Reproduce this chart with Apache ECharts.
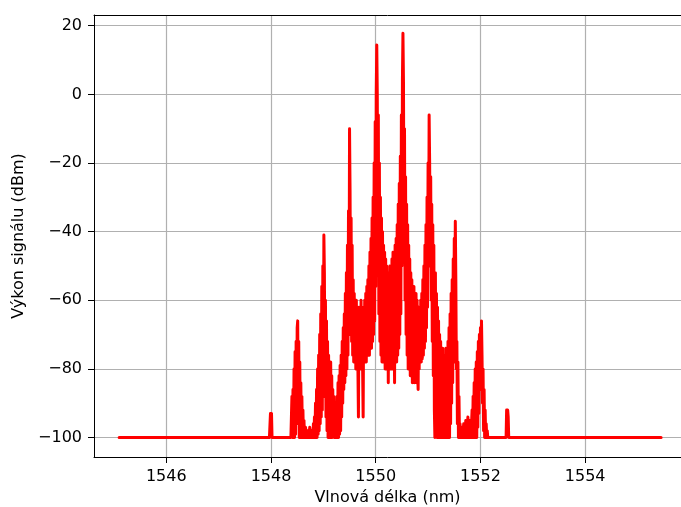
<!DOCTYPE html>
<html>
<head>
<meta charset="utf-8">
<script src="https://cdn.jsdelivr.net/npm/echarts@6/dist/echarts.min.js"></script>
<style>
html,body{margin:0;padding:0;background:#fff;}
#chart{width:681px;height:507px;}
</style>
</head>
<body>
<div id="chart"></div>
<script>
// ---- data: [wavelength nm, power dBm] ----
const flatLeft = [[1545.10,-100],[1547.97,-100]];
const spike1548 = [[1547.98,-100],[1547.99,-93],[1548.00,-96],[1548.01,-93],[1548.02,-100],[1548.38,-100]];
const lobe1548_5 = [
 [1548.39,-100],[1548.40,-88],[1548.41,-100],[1548.42,-86],[1548.43,-100],[1548.44,-80],[1548.45,-100],[1548.46,-75],
 [1548.47,-99],[1548.48,-72],[1548.49,-96],[1548.50,-68],[1548.51,-66],[1548.52,-94],[1548.53,-72],[1548.54,-100],
 [1548.55,-78],[1548.56,-100],[1548.57,-84],[1548.58,-100],[1548.59,-88],[1548.60,-100],[1548.61,-92],[1548.62,-100],
 [1548.63,-95],[1548.64,-100],[1548.66,-97],[1548.68,-100],[1548.70,-98],[1548.72,-100],[1548.74,-97],[1548.76,-100],
 [1548.78,-98],[1548.80,-100]
];
const lobe1549_0 = [
 [1548.81,-96],[1548.82,-100],[1548.83,-94],[1548.84,-100],[1548.85,-90],[1548.86,-100],[1548.87,-86],[1548.88,-100],
 [1548.89,-80],[1548.90,-99],[1548.91,-76],[1548.92,-98],[1548.93,-70],[1548.94,-96],[1548.95,-64],[1548.96,-94],
 [1548.97,-56],[1548.98,-92],[1548.99,-50],[1549.00,-86],[1549.01,-41],
 [1549.02,-52],[1549.03,-88],[1549.04,-60],[1549.05,-94],[1549.06,-66],[1549.07,-98],[1549.08,-72],[1549.09,-100],
 [1549.10,-76],[1549.11,-100],[1549.12,-80],[1549.13,-100],[1549.14,-78],[1549.15,-100],[1549.16,-82],[1549.17,-100],
 [1549.18,-86],[1549.19,-99],[1549.20,-88],[1549.21,-100],[1549.22,-90],[1549.23,-100],[1549.24,-92],[1549.25,-100]
];
const lobe1549_5 = [
 [1549.26,-88],[1549.27,-100],[1549.28,-84],[1549.29,-100],[1549.30,-82],[1549.31,-99],[1549.32,-79],[1549.33,-98],
 [1549.34,-76],[1549.35,-94],[1549.36,-72],[1549.37,-90],[1549.38,-68],[1549.39,-86],[1549.40,-64],[1549.41,-84],
 [1549.42,-58],[1549.43,-82],[1549.44,-52],[1549.45,-80],[1549.46,-44],[1549.47,-76],[1549.48,-34],[1549.49,-70],
 [1549.50,-10],
 [1549.51,-28],[1549.52,-66],[1549.53,-36],[1549.54,-72],[1549.55,-44],[1549.56,-76],[1549.57,-54],[1549.58,-78],
 [1549.59,-58],[1549.60,-78],[1549.61,-62],[1549.62,-80],[1549.63,-60],[1549.64,-78],[1549.65,-62],[1549.66,-80],
 [1549.67,-94],[1549.68,-62],[1549.69,-78],[1549.70,-64],[1549.71,-80],[1549.72,-60],[1549.73,-76],[1549.74,-62],
 [1549.75,-80],[1549.76,-94],[1549.77,-62]
];
const lobe1550_0 = [
 [1549.78,-78],[1549.79,-60],[1549.80,-76],[1549.81,-58],[1549.82,-78],[1549.83,-56],[1549.84,-76],[1549.85,-54],
 [1549.86,-76],[1549.87,-50],[1549.88,-76],[1549.89,-46],[1549.90,-74],[1549.91,-42],[1549.92,-74],[1549.93,-36],
 [1549.94,-72],[1549.95,-30],[1549.96,-70],[1549.97,-20],[1549.98,-66],[1549.99,-8],[1550.00,-56],[1550.01,0],
 [1550.02,14.4],
 [1550.03,0],[1550.04,-50],[1550.05,-6],[1550.06,-64],[1550.07,-20],[1550.08,-72],[1550.09,-30],[1550.10,-76],
 [1550.11,-36],[1550.12,-78],[1550.13,-40],[1550.14,-78],[1550.15,-44],[1550.16,-78],[1550.17,-46],[1550.18,-80],
 [1550.19,-48],[1550.20,-78],[1550.21,-50],[1550.22,-80],[1550.23,-52],[1550.24,-84],[1550.25,-52],[1550.26,-78],
 [1550.27,-50],[1550.28,-80],[1550.29,-50],[1550.30,-78],[1550.31,-48],[1550.32,-80],[1550.33,-46],[1550.34,-78],
 [1550.35,-46],[1550.36,-84],[1550.37,-44],[1550.38,-78]
];
const lobe1550_5 = [
 [1550.39,-42],[1550.40,-78],[1550.41,-38],[1550.42,-76],[1550.43,-32],[1550.44,-74],[1550.45,-26],[1550.46,-70],
 [1550.47,-18],[1550.48,-64],[1550.49,-6],[1550.50,-50],[1550.51,4],[1550.52,17.8],
 [1550.53,4],[1550.54,-40],[1550.55,-10],[1550.56,-60],[1550.57,-24],[1550.58,-70],[1550.59,-32],[1550.60,-76],
 [1550.61,-38],[1550.62,-80],[1550.63,-44],[1550.64,-80],[1550.65,-48],[1550.66,-82],[1550.67,-52],[1550.68,-82],
 [1550.69,-54],[1550.70,-84],[1550.71,-56],[1550.72,-82],[1550.73,-56],[1550.74,-84],[1550.75,-58],[1550.76,-82],
 [1550.77,-58],[1550.78,-84],[1550.79,-60],[1550.80,-80],[1550.81,-86],[1550.82,-62],[1550.83,-80],[1550.84,-62],
 [1550.85,-78]
];
const lobe1551_0 = [
 [1550.86,-60],[1550.87,-78],[1550.88,-58],[1550.89,-77],[1550.90,-54],[1550.91,-76],[1550.92,-50],[1550.93,-74],
 [1550.94,-44],[1550.95,-72],[1550.96,-38],[1550.97,-68],[1550.98,-30],[1550.99,-62],[1551.00,-20],[1551.01,-50],
 [1551.02,-6],
 [1551.03,-20],[1551.04,-48],[1551.05,-24],[1551.06,-60],[1551.07,-32],[1551.08,-72],[1551.09,-38],[1551.10,-82],
 [1551.11,-44],[1551.12,-92],[1551.13,-100],[1551.14,-52],[1551.15,-98],[1551.16,-58],[1551.17,-100],[1551.18,-62],
 [1551.19,-100],[1551.20,-66],[1551.21,-100],[1551.22,-70],[1551.23,-100],[1551.24,-72],[1551.25,-100],[1551.26,-76],
 [1551.27,-100],[1551.28,-74],[1551.29,-100],[1551.30,-76],[1551.31,-100],[1551.32,-78],[1551.33,-100],[1551.34,-74],
 [1551.35,-100],[1551.36,-76],[1551.37,-100]
];
const lobe1551_5 = [
 [1551.38,-72],[1551.39,-100],[1551.40,-68],[1551.41,-100],[1551.42,-64],[1551.43,-96],[1551.44,-58],[1551.45,-90],
 [1551.46,-54],[1551.47,-84],[1551.48,-48],[1551.49,-78],[1551.50,-42],[1551.51,-68],[1551.52,-37],
 [1551.53,-54],[1551.54,-80],[1551.55,-72],[1551.56,-96],[1551.57,-78],[1551.58,-100],[1551.59,-88],[1551.60,-100],
 [1551.61,-96],[1551.62,-100],[1551.64,-97],[1551.66,-100],[1551.68,-96],[1551.70,-100],[1551.72,-95],[1551.74,-100],
 [1551.76,-94],[1551.78,-100],[1551.80,-95],[1551.82,-100]
];
const lobe1552_0 = [
 [1551.84,-92],[1551.85,-100],[1551.86,-88],[1551.87,-100],[1551.88,-84],[1551.89,-100],[1551.90,-80],[1551.91,-100],
 [1551.92,-78],[1551.93,-100],[1551.94,-75],[1551.95,-97],[1551.96,-72],[1551.97,-93],[1551.98,-70],[1551.99,-86],
 [1552.00,-68],[1552.01,-80],[1552.02,-66],
 [1552.03,-76],[1552.04,-90],[1552.05,-80],[1552.06,-98],[1552.07,-86],[1552.08,-100],[1552.09,-92],[1552.10,-100],
 [1552.11,-96],[1552.12,-100],[1552.13,-98],[1552.14,-100]
];
const spike1552_5 = [[1552.49,-100],[1552.50,-92],[1552.51,-95],[1552.52,-92],[1552.53,-94],[1552.54,-100]];
const flatRight = [[1555.45,-100]];

const xTicks = [1546, 1548, 1550, 1552, 1554];
const yTicks = [-100, -80, -60, -40, -20, 0, 20];

const spectrum = [].concat(flatLeft, spike1548, lobe1548_5, lobe1549_0, lobe1549_5, lobe1550_0,
  lobe1550_5, lobe1551_0, lobe1551_5, lobe1552_0, spike1552_5, flatRight);

const FONT = 'DejaVu Sans';
const FS = 16;
const minusFmt = v => String(v).replace('-', '\u2212');
const chart = echarts.init(document.getElementById('chart'), null, {renderer: 'canvas'});
chart.setOption({
  animation: false,
  backgroundColor: '#ffffff',
  textStyle: {fontFamily: FONT},
  grid: {left: 94, right: 0, top: 15, bottom: 50, containLabel: false, outerBoundsMode: 'none'},
  xAxis: [{
    type: 'value', min: 1544.62, max: 1555.83, position: 'bottom',
    name: 'Vlnová délka (nm)', nameLocation: 'middle', nameGap: 33,
    nameTextStyle: {fontFamily: FONT, fontSize: FS, color: '#000'},
    axisLine: {show: true, onZero: false, lineStyle: {color: '#000', width: 1}},
    axisTick: {show: true, length: 6, lineStyle: {color: '#000', width: 1}, customValues: xTicks},
    axisLabel: {show: true, margin: 12, fontFamily: FONT, fontSize: FS, color: '#000', customValues: xTicks,
      formatter: v => String(v)},
    splitLine: {show: true, lineStyle: {color: '#b0b0b0', width: 1.2}}
  }, {
    type: 'value', min: 1544.62, max: 1555.83, position: 'top',
    axisLine: {show: true, onZero: false, lineStyle: {color: '#000', width: 1}},
    axisTick: {show: false}, axisLabel: {show: false}, splitLine: {show: false}
  }],
  yAxis: {
    type: 'value', min: -105.66, max: 23.12,
    name: 'Výkon signálu (dBm)', nameLocation: 'middle', nameGap: 66, nameRotate: 90,
    nameTextStyle: {fontFamily: FONT, fontSize: FS, color: '#000'},
    axisLine: {show: true, onZero: false, lineStyle: {color: '#000', width: 1}},
    axisTick: {show: true, length: 6, lineStyle: {color: '#000', width: 1}, customValues: yTicks},
    axisLabel: {show: true, margin: 12, fontFamily: FONT, fontSize: FS, color: '#000', customValues: yTicks,
      formatter: minusFmt},
    splitLine: {show: true, lineStyle: {color: '#b0b0b0', width: 1.2}}
  },
  series: [{
    type: 'line', xAxisIndex: 0, data: spectrum, showSymbol: false, symbol: 'none',
    sampling: null, smooth: false, clip: true,
    lineStyle: {color: '#ff0000', width: 3, join: 'round', cap: 'round'}
  }]
});
</script>
</body>
</html>
